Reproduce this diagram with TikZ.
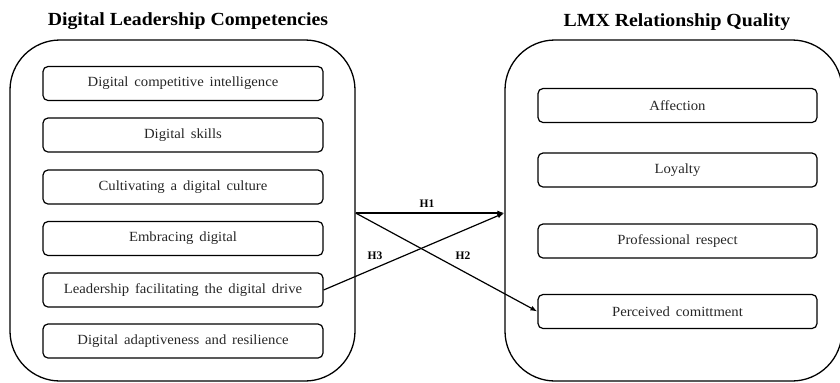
\documentclass[tikz,border=0pt]{standalone}
\usepackage{fontspec}
\setmainfont{Liberation Serif}
\newfontfamily\itemfont{Liberation Serif}[FakeStretch=1.05, WordSpace=1.6]
\newfontfamily\titlefont{Liberation Serif}[FakeStretch=1.07]
\usetikzlibrary{arrows.meta}
\begin{document}
\begin{tikzpicture}[x=1bp,y=-1bp,
  bigbox/.style={draw, line width=1.3bp, rounded corners=50bp, inner sep=0},
  itembox/.style={draw, line width=1.2bp, rounded corners=5bp, minimum width=280bp, minimum height=34bp, inner sep=0, font=\itemfont\fontsize{14bp}{16bp}\selectfont, text=black!85},
  title/.style={font=\titlefont\fontsize{18.5bp}{20bp}\selectfont\bfseries},
  hlabel/.style={font=\fontsize{11.5bp}{13bp}\selectfont\bfseries},
  conn/.style={line width=1.2bp, -{Latex[length=7bp,width=5bp]}}
]
\clip (0,0) rectangle (840,382);
\node[title] (tl) at (188,21) {Digital Leadership Competencies};
\node[title] (tr) at (677,22) {LMX Relationship Quality};
\node[bigbox, minimum width=345bp, minimum height=341bp] (L) at (182.5,210.5) {};
\node[bigbox, minimum width=337bp, minimum height=341bp] (R) at (673.5,210.5) {};
\node[itembox] (l1) at (183,83.5) {Digital competitive intelligence};
\node[itembox] (l2) at (183,135) {Digital skills};
\node[itembox] (l3) at (183,187) {Cultivating a digital culture};
\node[itembox] (l4) at (183,238.5) {Embracing digital};
\node[itembox] (l5) at (183,290) {Leadership facilitating the digital drive};
\node[itembox] (l6) at (183,341) {Digital adaptiveness and resilience};
\node[itembox, minimum width=279bp] (r1) at (677.5,105.5) {Affection};
\node[itembox, minimum width=279bp] (r2) at (677.5,170) {Loyalty};
\node[itembox, minimum width=279bp] (r3) at (677.5,241) {Professional respect};
\node[itembox, minimum width=279bp] (r4) at (677.5,311.5) {Perceived comittment};
\coordinate (s) at (L.east |- 0,213);
\coordinate (e) at (R.west |- 0,213);
\draw[conn] (s) -- (e);
\draw[conn] (s) -- (r4.west);
\draw[conn] (l5.east) -- (e);
\node[hlabel] (h1) at (427,204) {H1};
\node[hlabel] (h2) at (463,256) {H2};
\node[hlabel] (h3) at (375,256) {H3};
\end{tikzpicture}
\end{document}
